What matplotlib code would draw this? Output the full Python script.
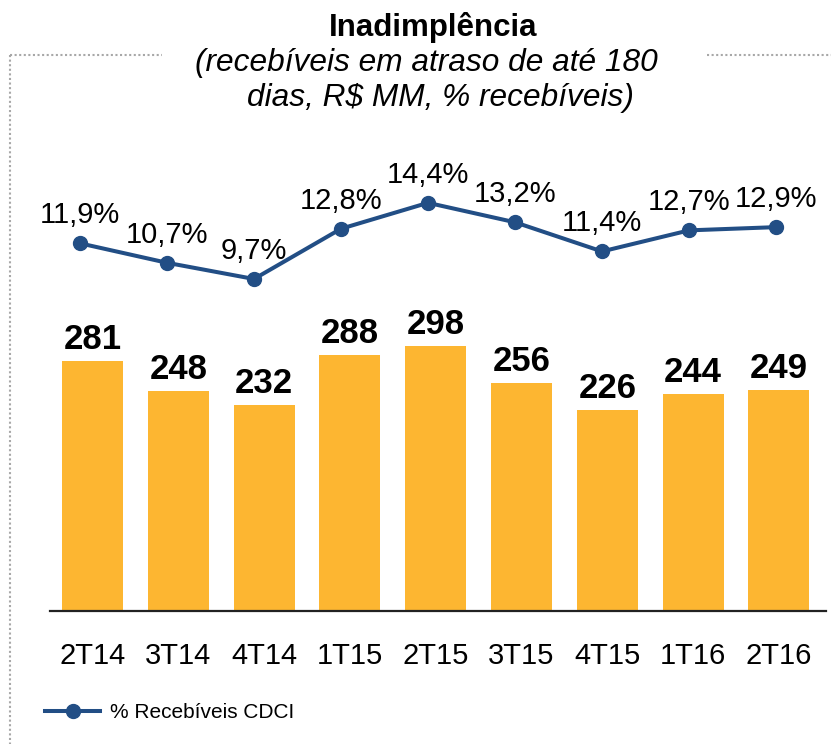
import matplotlib
matplotlib.use("Agg")
import matplotlib.pyplot as plt
from matplotlib.lines import Line2D

plt.rcParams['font.family'] = ['Liberation Sans', 'DejaVu Sans']

categories = ['2T14', '3T14', '4T14', '1T15', '2T15', '3T15', '4T15', '1T16', '2T16']
valores = [281, 248, 232, 288, 298, 256, 226, 244, 249]
percentuais = [11.9, 10.7, 9.7, 12.8, 14.4, 13.2, 11.4, 12.7, 12.9]
titulo = 'Inadimplência'
subtitulo_1 = '(recebíveis em atraso de até 180'
subtitulo_2 = 'dias, R$ MM, % recebíveis)'
legenda = '% Recebíveis CDCI'

W, H = 831, 744
fig = plt.figure(figsize=(W / 100, H / 100), dpi=100)

def fx(px):
    return px / W

def fy(py):
    return 1 - py / H

bar_color = '#FDB631'
line_color = '#224E85'

left, right, top, bottom = 50, 826, 150, 611
rect = [fx(left), fy(bottom), fx(right) - fx(left), fy(top) - fy(bottom)]

ax = fig.add_axes(rect)
x = list(range(len(categories)))
ax.bar(x, valores, width=0.71, color=bar_color, zorder=2)
ax.set_xlim(-0.495, 8.549)
ax.set_ylim(0, 518.6)
for s in ['left', 'right', 'top']:
    ax.spines[s].set_visible(False)
ax.spines['bottom'].set_color('#222222')
ax.spines['bottom'].set_linewidth(1.6)
ax.set_yticks([])
ax.set_xticks(x)
ax.set_xticklabels(categories, fontsize=21)
ax.tick_params(axis='x', length=0, pad=22)
for xi, v in zip(x, valores):
    ax.annotate(str(v), (xi, v), xytext=(0, 8.6), textcoords='offset points',
                ha='center', va='baseline', fontsize=25, fontweight='bold')

ax2 = fig.add_axes(rect)
ax2.patch.set_visible(False)
ax2.axis('off')
ax2.set_xlim(-0.345, 8.575)
ax2.set_ylim(-10.79, 17.66)
ln, = ax2.plot(x, percentuais, color=line_color, linewidth=2.9, marker='o',
               markersize=10, zorder=3)
for xi, p in zip(x, percentuais):
    ax2.annotate(f'{p:.1f}%'.replace('.', ','), (xi, p), xytext=(0, 14.4),
                 textcoords='offset points', ha='center', va='baseline',
                 fontsize=21)

fig.text(fx(433.5), fy(36), titulo, ha='center', va='baseline', fontsize=22.5,
         fontweight='bold')
fig.text(fx(426), fy(71), subtitulo_1, ha='center', va='baseline',
         fontsize=22.8, fontstyle='italic')
fig.text(fx(440), fy(106), subtitulo_2, ha='center', va='baseline',
         fontsize=22.8, fontstyle='italic')

fig.legend([ln], [legenda], loc='center left',
           bbox_to_anchor=(fx(45), fy(713)), frameon=False, fontsize=15,
           handlelength=2.64, handletextpad=0.48, borderpad=0, borderaxespad=0)

dot_kw = dict(color='#a8a8a8', linestyle=(0, (1, 1.2)), linewidth=1.5)
fig.add_artist(Line2D([fx(10), fx(162)], [fy(55), fy(55)], **dot_kw))
fig.add_artist(Line2D([fx(707), fx(831)], [fy(55), fy(55)], **dot_kw))
fig.add_artist(Line2D([fx(10), fx(10)], [fy(55), fy(744)], **dot_kw))

fig.savefig('out.png', dpi=100)
